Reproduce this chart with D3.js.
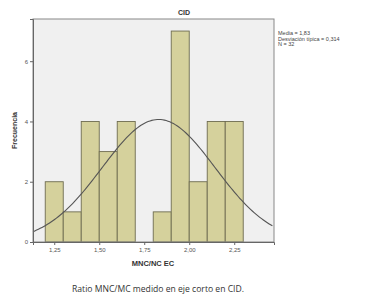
<!DOCTYPE html>
<html>
<head>
<meta charset="utf-8">
<script src="https://cdn.jsdelivr.net/npm/d3@7"></script>
<style>
  body { margin: 0; background: #fff; }
  svg { display: block; font-family: "Liberation Sans", Arial, sans-serif; }
  .axis text { fill: #555; font-size: 6px; }
  .axis path, .axis line { stroke: #666; }
</style>
</head>
<body>
<svg id="chart" width="365" height="304"></svg>
<script>
// histogram bins (lower edges, width 0.1) and counts
const binStarts = [1.2, 1.3, 1.4, 1.5, 1.6, 1.7, 1.8, 1.9, 2.0, 2.1, 2.2];
const counts    = [2,   1,   4,   3,   4,   0,   1,   7,   2,   4,   4];
const binWidth  = 0.1;
// summary stats shown in the legend
const mean = 1.83, sd = 0.314, n = 32;
const xTicks = [1.25, 1.50, 1.75, 2.00, 2.25];
const yTicks = [0, 2, 4, 6];

const margin = { top: 19, left: 33 },
      width  = 241,
      height = 223;

const svg = d3.select('#chart');
const g = svg.append('g')
    .attr('transform', 'translate(' + margin.left + ',' + margin.top + ')');

const x = d3.scaleLinear().domain([1.132, 2.471]).range([0, width]);
const y = d3.scaleLinear().domain([0, 7.4]).range([height, 0]);

// plot background
g.append('rect')
    .attr('width', width).attr('height', height)
    .attr('fill', '#f0f0f0');

// bars
g.selectAll('.bar')
    .data(binStarts.map((b, i) => ({ b: b, c: counts[i] })).filter(d => d.c > 0))
  .enter().append('rect')
    .attr('class', 'bar')
    .attr('x', d => x(d.b))
    .attr('width', d => x(d.b + binWidth) - x(d.b))
    .attr('y', d => y(d.c))
    .attr('height', d => y(0) - y(d.c))
    .attr('fill', '#d5d19c')
    .attr('stroke', '#6e6c50')
    .attr('stroke-width', 0.9);

// normal curve scaled to counts
const pts = d3.range(x.domain()[0], x.domain()[1] + 0.001, 0.01).map(v => [v,
  n * binWidth / (sd * Math.sqrt(2 * Math.PI)) * Math.exp(-0.5 * Math.pow((v - mean) / sd, 2))]);
g.append('path')
    .datum(pts)
    .attr('fill', 'none')
    .attr('stroke', '#555')
    .attr('stroke-width', 1.1)
    .attr('d', d3.line().x(d => x(d[0])).y(d => y(d[1])));

// frame
g.append('rect')
    .attr('width', width).attr('height', height)
    .attr('fill', 'none').attr('stroke', '#888').attr('stroke-width', 1);

// axes
const fmt = d => d3.format('.2f')(d).replace('.', ',');
g.append('g')
    .attr('class', 'axis')
    .attr('transform', 'translate(0,' + height + ')')
    .call(d3.axisBottom(x).tickValues(xTicks).tickFormat(fmt).tickSize(3).tickPadding(3))
    .call(a => a.select('.domain').attr('stroke', '#666'));
g.append('g')
    .attr('class', 'axis')
    .call(d3.axisLeft(y).tickValues(yTicks).tickSize(3).tickPadding(2))
    .call(a => a.select('.domain').attr('stroke', '#666'));

// titles
svg.append('text')
    .attr('x', 184).attr('y', 15)
    .attr('text-anchor', 'middle')
    .style('font-size', '7px').style('font-weight', 'bold').style('fill', '#333')
    .text('CID');

svg.append('text')
    .attr('transform', 'translate(17,' + (margin.top + height / 2) + ') rotate(-90)')
    .attr('text-anchor', 'middle')
    .style('font-size', '7px').style('font-weight', 'bold').style('fill', '#333')
    .text('Frecuencia');

svg.append('text')
    .attr('x', 153).attr('y', 266)
    .attr('text-anchor', 'middle')
    .style('font-size', '7.5px').style('font-weight', 'bold').style('fill', '#333')
    .text('MNC/NC EC');

svg.append('text')
    .attr('x', 158).attr('y', 292)
    .attr('text-anchor', 'middle')
    .style('font-family', '"Open Sans", sans-serif')
    .style('font-size', '8.6px').style('fill', '#333')
    .text('Ratio MNC/MC medido en eje corto en CID.');

// legend stats
const legend = ['Media = ' + String(mean).replace('.', ','),
                'Desviación típica = ' + String(sd).replace('.', ','),
                'N = ' + n];
svg.selectAll('.leg')
    .data(legend)
  .enter().append('text')
    .attr('x', 278)
    .attr('y', (d, i) => 35 + i * 5.5)
    .style('font-size', '5.5px').style('fill', '#444')
    .text(d => d);
</script>
</body>
</html>
